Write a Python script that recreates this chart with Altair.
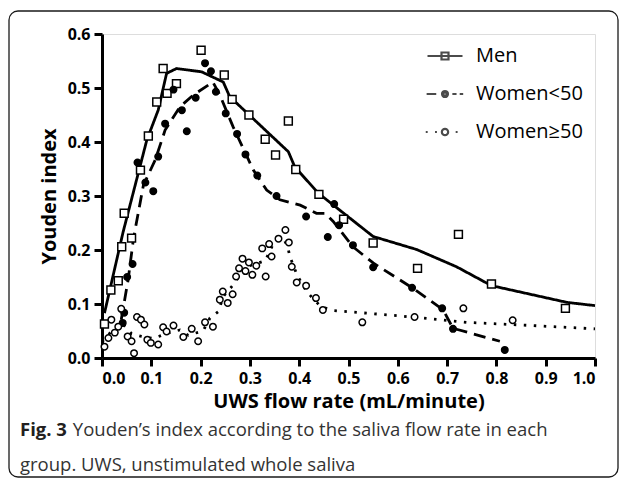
import altair as alt
import pandas as pd

groups = ["Men", "Women<50", "Women≥50"]

# ---- scatter points ----
men_x = [0.005, 0.018, 0.033, 0.040, 0.045, 0.060, 0.078, 0.094, 0.111, 0.124, 0.132, 0.151,
         0.201, 0.248, 0.264, 0.298, 0.331, 0.352, 0.378, 0.393, 0.440, 0.490, 0.550, 0.640,
         0.723, 0.790, 0.940]
men_y = [0.063, 0.126, 0.143, 0.206, 0.268, 0.222, 0.348, 0.411, 0.474, 0.536, 0.490, 0.508,
         0.570, 0.524, 0.479, 0.450, 0.405, 0.376, 0.439, 0.349, 0.303, 0.257, 0.213, 0.166,
         0.229, 0.137, 0.092]

wy_x = [0.042, 0.045, 0.051, 0.062, 0.072, 0.088, 0.104, 0.114, 0.128, 0.145, 0.162, 0.172,
        0.190, 0.209, 0.221, 0.231, 0.251, 0.274, 0.291, 0.315, 0.354, 0.414, 0.458, 0.471,
        0.481, 0.509, 0.550, 0.629, 0.690, 0.712, 0.817]
wy_y = [0.065, 0.084, 0.150, 0.174, 0.362, 0.325, 0.309, 0.373, 0.434, 0.497, 0.459, 0.420,
        0.482, 0.546, 0.531, 0.493, 0.453, 0.415, 0.377, 0.338, 0.300, 0.262, 0.224, 0.285,
        0.246, 0.209, 0.168, 0.130, 0.092, 0.054, 0.015]

wo_x = [0.005, 0.013, 0.019, 0.026, 0.033, 0.039, 0.052, 0.060, 0.065, 0.071, 0.079, 0.086,
        0.092, 0.099, 0.114, 0.124, 0.131, 0.145, 0.165, 0.182, 0.195, 0.209, 0.225, 0.239,
        0.245, 0.255, 0.265, 0.272, 0.278, 0.285, 0.291, 0.298, 0.305, 0.313, 0.325, 0.332,
        0.339, 0.344, 0.358, 0.372, 0.379, 0.385, 0.395, 0.414, 0.434, 0.448, 0.528, 0.634,
        0.733, 0.833]
wo_y = [0.021, 0.037, 0.071, 0.047, 0.058, 0.091, 0.040, 0.031, 0.009, 0.076, 0.071, 0.062,
        0.034, 0.028, 0.025, 0.057, 0.049, 0.060, 0.039, 0.054, 0.031, 0.066, 0.058, 0.108,
        0.123, 0.102, 0.118, 0.151, 0.166, 0.184, 0.161, 0.177, 0.154, 0.171, 0.203, 0.151,
        0.211, 0.188, 0.221, 0.237, 0.214, 0.169, 0.140, 0.134, 0.111, 0.089, 0.066, 0.076,
        0.092, 0.070]

# ---- smoothed curves ----
men_lx = [0.005, 0.043, 0.091, 0.114, 0.131, 0.151, 0.202, 0.246, 0.259, 0.378, 0.391, 0.439,
          0.550, 0.638, 0.719, 0.790, 0.943, 1.0]
men_ly = [0.083, 0.234, 0.404, 0.459, 0.527, 0.536, 0.530, 0.511, 0.484, 0.382, 0.354, 0.305,
          0.225, 0.201, 0.169, 0.134, 0.103, 0.097]

wy_lx = [0.039, 0.053, 0.064, 0.084, 0.108, 0.128, 0.158, 0.185, 0.225, 0.239, 0.266, 0.307,
         0.334, 0.361, 0.402, 0.435, 0.452, 0.469, 0.509, 0.550, 0.631, 0.692, 0.712, 0.807]
wy_ly = [0.071, 0.145, 0.222, 0.320, 0.367, 0.422, 0.465, 0.487, 0.511, 0.487, 0.428, 0.348,
         0.311, 0.293, 0.283, 0.268, 0.268, 0.253, 0.206, 0.176, 0.129, 0.089, 0.055, 0.031]

wo_lx = [0.0, 0.02, 0.04, 0.06, 0.08, 0.104, 0.13, 0.158, 0.175, 0.189, 0.205, 0.219, 0.236,
         0.246, 0.263, 0.293, 0.331, 0.340, 0.348, 0.360, 0.370, 0.377, 0.381, 0.396, 0.415,
         0.444, 0.469, 0.604, 0.740, 0.875, 1.0]
wo_ly = [0.030, 0.050, 0.065, 0.045, 0.040, 0.036, 0.045, 0.052, 0.042, 0.046, 0.050, 0.074,
         0.086, 0.114, 0.132, 0.169, 0.180, 0.197, 0.213, 0.222, 0.218, 0.205, 0.188, 0.153,
         0.123, 0.095, 0.088, 0.078, 0.066, 0.060, 0.054]

x_ticks = [0.0, 0.1, 0.2, 0.3, 0.4, 0.5, 0.6, 0.7, 0.8, 0.9, 1.0]
y_ticks = [0.0, 0.1, 0.2, 0.3, 0.4, 0.5, 0.6]

x_title = "UWS flow rate (mL/minute)"
y_title = "Youden index"
caption_bold = "Fig. 3"
caption_lines = ["\u200b" + "\u00a0" * 11 + "Youden\u2019s index according to the saliva flow rate in each",
                 "group. UWS, unstimulated whole saliva"]

# ---- tables ----
def pts(g, xs, ys):
    return pd.DataFrame({"group": g, "x": xs, "y": ys})

def line(g, xs, ys):
    return pd.DataFrame({"group": g, "x": xs, "y": ys, "order": list(range(len(xs)))})

FONT = "Open Sans"
xscale = alt.Scale(domain=[0, 1], nice=False, zero=False)
yscale = alt.Scale(domain=[0, 0.6], nice=False, zero=False)

axis_common = dict(format=".1f", grid=False, domainColor="black", domainWidth=3,
                   tickColor="black", tickWidth=3, tickSize=8,
                   labelFont=FONT, labelFontSize=16, labelFontWeight="bold", labelColor="black",
                   titleFont=FONT, titleFontSize=20, titleFontWeight="bold", titleColor="black")

x_enc = alt.X("x:Q", scale=xscale, title=x_title,
              axis=alt.Axis(values=x_ticks, labelPadding=4, titlePadding=5, **axis_common))
y_enc = alt.Y("y:Q", scale=yscale, title=y_title,
              axis=alt.Axis(values=y_ticks, labelPadding=4, titlePadding=8, **axis_common))

# legend symbols (line style + marker), unit coordinates
men_sym = "M-1,0H1M-0.2,-0.2H0.2V0.2H-0.2Z"
wy_sym = ("M-1.05,0H-0.5M0.42,0H0.66M0.84,0H1.04"
          "M0.17,0A0.17,0.17,0,1,1,-0.17,0A0.17,0.17,0,1,1,0.17,0Z"
          "M0.1,0A0.1,0.1,0,1,1,-0.1,0A0.1,0.1,0,1,1,0.1,0Z"
          "M0.03,0A0.03,0.03,0,1,1,-0.03,0A0.03,0.03,0,1,1,0.03,0Z")
wo_sym = ("M-1.1,0H-0.99M-0.57,0H-0.46M0.61,0H0.72"
          "M0.18,0A0.18,0.18,0,1,1,-0.18,0A0.18,0.18,0,1,1,0.18,0Z")

legend = alt.Legend(title=None, orient="none", legendX=324, legendY=3, padding=0,
                    labelFont=FONT, labelFontSize=20, labelColor="black", labelOffset=12,
                    rowPadding=9, symbolSize=1225, symbolStrokeWidth=2.2,
                    symbolStrokeColor="black", symbolFillColor="white", labelLimit=0)


def curve(xs, ys, g, dash):
    return alt.Chart(line(g, xs, ys)).mark_line(color="black", strokeWidth=2.8,
                                                 strokeDash=dash).encode(
        x=x_enc, y=y_enc, order="order:Q")


def markers(xs, ys, g, shape, size, fill):
    return alt.Chart(pts(g, xs, ys)).mark_point(shape=shape, size=size, stroke="black",
                                                 strokeWidth=1.5, fill=fill, opacity=1,
                                                 fillOpacity=1).encode(x="x:Q", y="y:Q")


men_line = curve(men_lx, men_ly, groups[0], [1, 0])
wy_line = curve(wy_lx, wy_ly, groups[1], [12, 7])
wo_line = curve(wo_lx, wo_ly, groups[2], [2.5, 7.5])

men_pts = markers(men_x, men_y, groups[0], "square", 62, "white")
wy_pts = markers(wy_x, wy_y, groups[1], "circle", 42, "black")
wo_pts = markers(wo_x, wo_y, groups[2], "circle", 42, "white")

legend_layer = alt.Chart(alt.Data(values=[])).mark_point(stroke="black", filled=False).encode(
    shape=alt.Shape("group:N", scale=alt.Scale(domain=groups, range=[men_sym, wy_sym, wo_sym]),
                    legend=legend)
)

frame_df = pd.DataFrame({"frame": [0]})
frame = alt.Chart(frame_df).mark_rect(filled=False, stroke="#1a1a1a", strokeWidth=1.3,
                                      cornerRadius=9, clip=False).encode(
    x=alt.value(-93), x2=alt.value(516), y=alt.value(-23), y2=alt.value(443)
)

chart = alt.layer(men_line, wy_line, wo_line, men_pts, wy_pts, wo_pts, legend_layer, frame).properties(
    width=493, height=324,
    autosize=alt.AutoSizeParams(type="none"),
    padding={"left": 94, "top": 26, "right": 24, "bottom": 120},
    title=alt.TitleParams(text=caption_bold, subtitle=caption_lines, orient="bottom",
                          anchor="start", frame="group", dx=-82, offset=-57,
                          font=FONT, fontSize=18.5, fontWeight="bold", color="#231f20",
                          subtitleFont=FONT, subtitleFontSize=18.5, subtitleColor="#333333",
                          subtitleFontWeight="normal", subtitlePadding=-18.5,
                          subtitleLineHeight=35),
).configure_view(stroke=None).configure(background="white")

chart.save("out.html", embed_options={"renderer": "svg", "actions": False})
